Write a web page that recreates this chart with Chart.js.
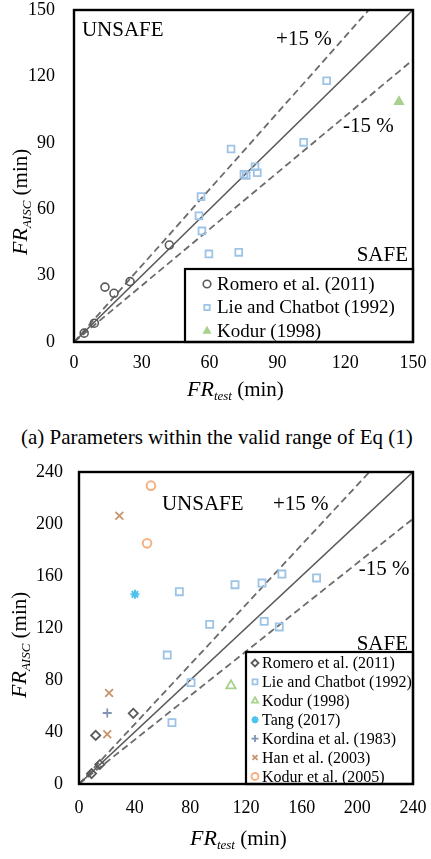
<!DOCTYPE html>
<html>
<head>
<meta charset="utf-8">
<script src="https://cdn.jsdelivr.net/npm/chart.js@4.4.1/dist/chart.umd.min.js"></script>
<style>
  body { margin: 0; background: #fff; width: 431px; height: 859px; overflow: hidden; }
  #chartA { position: absolute; left: 0; top: 0; }
  #chartB { position: absolute; left: 0; top: 455px; }
  #caption {
    position: absolute; left: 21px; top: 427px; white-space: nowrap;
    font-family: "Liberation Serif", "DejaVu Serif", serif; font-size: 21px; line-height: 21px; color: #000;
  }
</style>
</head>
<body>
<canvas id="chartA" width="431" height="415"></canvas>
<div id="caption">(a) Parameters within the valid range of Eq (1)</div>
<canvas id="chartB" width="431" height="404"></canvas>
<script>
// ---- chart (a): parameters within valid range ----
const romeroA_x = [4.5, 9, 13.7, 17.7, 24.8, 42.2];
const romeroA_y = [4, 8.5, 24.8, 22, 27.3, 43.8];
const lieA_x = [56.2, 55.3, 56.6, 59.7, 72.9, 75.2, 76.2, 81.1, 80.1, 69.5, 101.6, 111.8];
const lieA_y = [65.7, 57, 50.2, 39.8, 40.5, 75.8, 75.2, 76.5, 79.2, 87.2, 90.2, 118];
const kodurA_x = [143.8];
const kodurA_y = [108.6];
const refA_x = [0, 150];
const refA_y = [0, 150];
const upperA_y = [0, 172.5];
const lowerA_y = [0, 127.5];
const ticksA = [0, 30, 60, 90, 120, 150];

// ---- chart (b): all specimens ----
const romeroB_x = [9, 15, 12, 39];
const romeroB_y = [8, 15, 37.4, 54.4];
const lieB_x = [72.1, 93.9, 112.1, 131.5, 145.8, 170.7, 133.1, 143.9, 63.4, 80.5, 66.8];
const lieB_y = [147.9, 122.8, 153.3, 154.6, 161.5, 158.5, 125.1, 120.8, 99.2, 78, 47.2];
const kodurB_x = [109.2];
const kodurB_y = [75.6];
const tang_x = [40.2];
const tang_y = [145.9];
const kordina_x = [20.3];
const kordina_y = [54.6];
const han_x = [29, 21.6, 20.3];
const han_y = [206.4, 70, 38.2];
const kodur05_x = [51.7, 48.9];
const kodur05_y = [229.5, 185.1];
const refB_x = [0, 240];
const refB_y = [0, 240];
const upperB_y = [0, 276];
const lowerB_y = [0, 204];
const ticksB = [0, 40, 80, 120, 160, 200, 240];

const serif = '"Liberation Serif", "DejaVu Serif", serif';
Chart.defaults.font.family = serif;

function pts(xs, ys) {
    return xs.map((x, i) => ({ x: x, y: ys[i] }));
}

function markers(label, xs, ys, style, color, fill, radius, bw) {
    return {
        label: label,
        data: pts(xs, ys),
        pointStyle: style,
        pointRadius: radius,
        pointBorderColor: color,
        pointBackgroundColor: fill,
        pointBorderWidth: bw,
        showLine: false,
        order: 0
    };
}

function refLine(xs, ys, dashed) {
    return {
        data: pts(xs, ys),
        isRef: true,
        showLine: true,
        pointRadius: 0,
        borderColor: dashed ? '#6b6b6b' : '#5a5a5a',
        borderWidth: dashed ? 1.8 : 1.6,
        borderDash: dashed ? [7, 4] : [],
        order: 1
    };
}

// draws a run of text pieces, used for the subscripted axis titles
function drawParts(ctx, parts) {
    let x = 0;
    parts.forEach(p => {
        ctx.font = p.font;
        ctx.fillText(p.t, x, p.dy);
        x += ctx.measureText(p.t).width;
    });
}

const decorPlugin = {
    id: 'decor',
    afterDatasetsDraw(chart, args, o) {
        const { ctx, chartArea: a, scales } = chart;
        ctx.save();

        // legend box in the lower right corner
        const L = o.legend;
        const bx = a.right - L.w, by = a.bottom - L.h;
        ctx.fillStyle = '#fff';
        ctx.fillRect(bx, by, L.w, L.h);
        ctx.lineWidth = 2.2;
        ctx.strokeStyle = '#000';
        ctx.strokeRect(bx, by, L.w, L.h);
        const items = chart.data.datasets.filter(d => !d.isRef);
        ctx.textAlign = 'left';
        ctx.textBaseline = 'middle';
        ctx.font = L.size + 'px ' + serif;
        items.forEach((d, i) => {
            const y = by + L.first + i * L.row;
            ctx.strokeStyle = d.pointBorderColor;
            ctx.fillStyle = d.pointBackgroundColor;
            ctx.lineWidth = d.pointBorderWidth;
            Chart.helpers.drawPoint(ctx, {
                pointStyle: d.pointStyle, radius: L.marker, borderWidth: d.pointBorderWidth, rotation: 0
            }, bx + L.mx, y);
            ctx.fillStyle = '#000';
            ctx.fillText(d.label, bx + L.tx, y + 1);
        });

        // UNSAFE / SAFE / ±15 % notes, anchored in data units
        ctx.fillStyle = '#000';
        ctx.font = o.noteSize + 'px ' + serif;
        ctx.textBaseline = 'alphabetic';
        o.notes.forEach(n => {
            ctx.textAlign = n.align || 'left';
            ctx.fillText(n.text, scales.x.getPixelForValue(n.x), scales.y.getPixelForValue(n.y));
        });

        // plot frame
        ctx.lineWidth = 2.4;
        ctx.strokeStyle = '#000';
        ctx.strokeRect(a.left, a.top, a.right - a.left, a.bottom - a.top);

        // axis titles
        ctx.fillStyle = '#000';
        ctx.textBaseline = 'alphabetic';
        ctx.textAlign = 'left';
        ctx.save();
        ctx.translate(a.left + o.xTitle.dx, a.bottom + o.xTitle.dy);
        drawParts(ctx, [
            { t: 'FR', font: 'italic 22px ' + serif, dy: 0 },
            { t: 'test', font: 'italic 13px ' + serif, dy: 4 },
            { t: ' (min)', font: '21px ' + serif, dy: 0 }
        ]);
        ctx.restore();
        ctx.save();
        ctx.translate(o.yTitle.x, a.bottom - o.yTitle.dy);
        ctx.rotate(-Math.PI / 2);
        drawParts(ctx, [
            { t: 'FR', font: 'italic 22px ' + serif, dy: 0 },
            { t: 'AISC', font: 'italic 13px ' + serif, dy: 4 },
            { t: ' (min)', font: '21px ' + serif, dy: 0 }
        ]);
        ctx.restore();
        ctx.restore();
    }
};

function axis(max, ticks, padding, fit) {
    return {
        type: 'linear',
        min: 0,
        max: max,
        afterBuildTicks: s => { s.ticks = ticks.map(v => ({ value: v })); },
        ticks: { padding: padding, color: '#000', maxRotation: 0, font: { family: serif, size: 18, lineHeight: 1 } },
        grid: { display: false, drawTicks: false },
        border: { display: false },
        afterFit: fit
    };
}

// fixed axis sizes so the plot area lands where the reference has it
function fixX(h) {
    return s => { s.height = h; s.paddingLeft = 0; s.paddingRight = 0; };
}
function fixY(w) {
    return s => { s.width = w; s.paddingTop = 0; s.paddingBottom = 0; };
}

new Chart(document.getElementById('chartA'), {
    type: 'scatter',
    data: {
        datasets: [
            markers('Romero et al. (2011)', romeroA_x, romeroA_y, 'circle', '#5a5a5a', 'rgba(255,255,255,0)', 4, 1.6),
            markers('Lie and Chatbot (1992)', lieA_x, lieA_y, 'rect', '#9dc3e6', 'rgba(255,255,255,0)', 4.8, 1.8),
            markers('Kodur (1998)', kodurA_x, kodurA_y, 'triangle', '#a9d18e', '#a9d18e', 5, 1.5),
            refLine(refA_x, refA_y, false),
            refLine(refA_x, upperA_y, true),
            refLine(refA_x, lowerA_y, true)
        ]
    },
    options: {
        responsive: false,
        animation: false,
        events: [],
        layout: { padding: { left: 0, right: 18, top: 10, bottom: 0 } },
        scales: {
            x: axis(150, ticksA, 12, fixX(73)),
            y: axis(150, ticksA, 19, fixY(74))
        },
        plugins: {
            legend: { display: false },
            tooltip: { enabled: false },
            decor: {
                noteSize: 21,
                notes: [
                    { text: 'UNSAFE', x: 3.5, y: 138.3 },
                    { text: '+15 %', x: 89.4, y: 134.2 },
                    { text: '-15 %', x: 119, y: 94.9 },
                    { text: 'SAFE', x: 147.8, y: 36.6, align: 'right' }
                ],
                legend: { w: 228, h: 73, first: 15, row: 23.5, mx: 22, tx: 32, size: 19, marker: 3.8 },
                xTitle: { dx: 113, dy: 54 },
                yTitle: { x: 27, dy: 87 }
            }
        }
    },
    plugins: [decorPlugin]
});

new Chart(document.getElementById('chartB'), {
    type: 'scatter',
    data: {
        datasets: [
            markers('Romero et al. (2011)', romeroB_x, romeroB_y, 'rectRot', '#5a5a5a', 'rgba(255,255,255,0)', 4.6, 1.8),
            markers('Lie and Chatbot (1992)', lieB_x, lieB_y, 'rect', '#9dc3e6', 'rgba(255,255,255,0)', 5, 1.8),
            markers('Kodur (1998)', kodurB_x, kodurB_y, 'triangle', '#a9d18e', 'rgba(255,255,255,0)', 5.5, 1.8),
            markers('Tang (2017)', tang_x, tang_y, 'star', '#4bc3ec', '#4bc3ec', 4.5, 2),
            markers('Kordina et al. (1983)', kordina_x, kordina_y, 'cross', '#8095b2', '#8095b2', 4.5, 1.8),
            markers('Han et al. (2003)', han_x, han_y, 'crossRot', '#c8946d', '#c8946d', 5.5, 1.8),
            markers('Kodur et al. (2005)', kodur05_x, kodur05_y, 'circle', '#f4b183', 'rgba(255,255,255,0)', 4.3, 2),
            refLine(refB_x, refB_y, false),
            refLine(refB_x, upperB_y, true),
            refLine(refB_x, lowerB_y, true)
        ]
    },
    options: {
        responsive: false,
        animation: false,
        events: [],
        layout: { padding: { left: 0, right: 18, top: 17, bottom: 0 } },
        scales: {
            x: axis(240, ticksB, 15, fixX(75)),
            y: axis(240, ticksB, 16, fixY(79))
        },
        plugins: {
            legend: { display: false },
            tooltip: { enabled: false },
            decor: {
                noteSize: 21,
                notes: [
                    { text: 'UNSAFE', x: 59.6, y: 210.8 },
                    { text: '+15 %', x: 139.4, y: 210.8 },
                    { text: '-15 %', x: 201, y: 160.8 },
                    { text: 'SAFE', x: 236.4, y: 103, align: 'right' }
                ],
                legend: { w: 167, h: 132, first: 11, row: 18.9, mx: 9, tx: 16, size: 16, marker: 3.5 },
                xTitle: { dx: 111, dy: 61 },
                yTitle: { x: 26, dy: 86 }
            }
        }
    },
    plugins: [decorPlugin]
});
</script>
</body>
</html>
